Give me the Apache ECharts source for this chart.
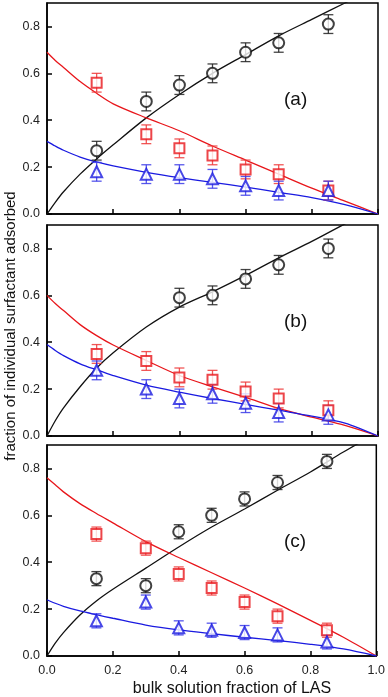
<!DOCTYPE html>
<html>
<head>
<meta charset="utf-8">
<script src="https://cdn.jsdelivr.net/npm/echarts@6/dist/echarts.min.js"></script>
<style>
  html, body { margin: 0; padding: 0; background: #fff; }
  #chart { width: 388px; height: 697px; }
</style>
</head>
<body>
<div id="chart"></div>
<script>
// measured points (x = bulk solution fraction of LAS)
const pointX = [0.15, 0.3, 0.4, 0.5, 0.6, 0.7, 0.85]

const circleA = [0.27, 0.48, 0.55, 0.60, 0.69, 0.73, 0.81]
const squareA = [0.56, 0.34, 0.28, 0.25, 0.19, 0.17, 0.10]
const triangleA = [0.18, 0.17, 0.17, 0.15, 0.12, 0.10, 0.10]
const errA = [0.04, 0.04, 0.04, 0.04, 0.04, 0.04, 0.04]

const circleB = [null, null, 0.59, 0.60, 0.67, 0.73, 0.80]
const squareB = [0.35, 0.32, 0.25, 0.24, 0.19, 0.16, 0.11]
const triangleB = [0.28, 0.20, 0.16, 0.18, 0.14, 0.10, 0.09]
const errB = [0.04, 0.04, 0.04, 0.04, 0.04, 0.04, 0.04]

const circleC = [0.33, 0.30, 0.53, 0.60, 0.67, 0.74, 0.83]
const squareC = [0.52, 0.46, 0.35, 0.29, 0.23, 0.17, 0.11]
const triangleC = [0.15, 0.23, 0.12, 0.11, 0.10, 0.09, 0.06]
const errC = [0.03, 0.03, 0.03, 0.03, 0.03, 0.03, 0.03]

// fitted curves
const curveX = [0, 0.025, 0.05, 0.1, 0.15, 0.2, 0.3, 0.4, 0.5, 0.6, 0.7, 0.8, 0.9, 1.0]

const blackFitA = [0, 0.05, 0.095, 0.17, 0.235, 0.295, 0.41, 0.51, 0.60, 0.68, 0.76, 0.83, 0.90, 0.97]
const redFitA = [0.69, 0.655, 0.625, 0.565, 0.515, 0.47, 0.41, 0.355, 0.29, 0.23, 0.17, 0.11, 0.055, 0]
const blueFitA = [0.31, 0.29, 0.272, 0.243, 0.222, 0.205, 0.178, 0.155, 0.135, 0.115, 0.092, 0.07, 0.04, 0]

const blackFitB = [0, 0.065, 0.12, 0.21, 0.29, 0.355, 0.465, 0.55, 0.615, 0.685, 0.76, 0.83, 0.905, 0.98]
const redFitB = [0.60, 0.565, 0.535, 0.475, 0.428, 0.388, 0.322, 0.258, 0.21, 0.165, 0.118, 0.08, 0.045, 0]
const blueFitB = [0.39, 0.365, 0.343, 0.308, 0.282, 0.258, 0.217, 0.187, 0.16, 0.135, 0.11, 0.085, 0.055, 0]

const blackFitC = [0, 0.055, 0.10, 0.175, 0.235, 0.285, 0.375, 0.465, 0.55, 0.627, 0.707, 0.785, 0.87, 0.95]
const redFitC = [0.76, 0.73, 0.70, 0.65, 0.608, 0.568, 0.488, 0.42, 0.355, 0.29, 0.222, 0.152, 0.08, 0]
const blueFitC = [0.24, 0.225, 0.212, 0.192, 0.176, 0.161, 0.132, 0.111, 0.095, 0.08, 0.066, 0.05, 0.03, 0]

const panelLabels = ['(a)', '(b)', '(c)']

const BLACK = '#111'
const RED = '#e8161b'
const BLUE = '#1a1ae0'

const panels = [
  { circle: circleA, square: squareA, triangle: triangleA, err: errA, fits: [blackFitA, redFitA, blueFitA] },
  { circle: circleB, square: squareB, triangle: triangleB, err: errB, fits: [blackFitB, redFitB, blueFitB] },
  { circle: circleC, square: squareC, triangle: triangleC, err: errC, fits: [blackFitC, redFitC, blueFitC] }
]

const gridTops = [3, 225, 445]
const gridHeight = 211

const chart = echarts.init(document.getElementById('chart'))

const fmt = v => v.toFixed(1)
const font = 'Liberation Sans'

const grids = gridTops.map(top => ({
  left: 47, width: 331, top: top, height: gridHeight,
  show: true, borderColor: '#000', borderWidth: 1.5, backgroundColor: 'transparent'
}))

const xAxes = gridTops.map((_, i) => ({
  type: 'value', gridIndex: i, min: 0, max: 1, interval: 0.2,
  axisLine: { lineStyle: { color: '#000', width: 1.5 } },
  axisTick: { inside: true, length: 5, lineStyle: { color: '#000', width: 1.5 } },
  axisLabel: { show: i === 2, formatter: fmt, color: '#222', fontSize: 12.5, fontFamily: font, margin: 8 },
  splitLine: { show: false }
}))

const yAxes = gridTops.map((_, i) => ({
  type: 'value', gridIndex: i, min: 0, max: 0.9, interval: 0.2,
  axisLine: { lineStyle: { color: '#000', width: 1.5 } },
  axisTick: { inside: true, length: 5, lineStyle: { color: '#000', width: 1.5 } },
  axisLabel: { formatter: fmt, color: '#222', fontSize: 12.5, fontFamily: font, margin: 7, showMaxLabel: false },
  splitLine: { show: false }
}))

// error bar: vertical line with caps
const errorBars = (ys, err, color, i) => ({
  type: 'custom', xAxisIndex: i, yAxisIndex: i, z: 3,
  data: pointX.map((x, k) => ys[k] == null ? null : [x, ys[k] - err[k], ys[k] + err[k]]).filter(d => d),
  renderItem: (params, api) => {
    const lo = api.coord([api.value(0), api.value(1)])
    const hi = api.coord([api.value(0), api.value(2)])
    const w = 5
    const style = { stroke: color, lineWidth: 1.3, opacity: 0.85 }
    return {
      type: 'group',
      children: [
        { type: 'line', shape: { x1: lo[0], y1: lo[1], x2: hi[0], y2: hi[1] }, style },
        { type: 'line', shape: { x1: lo[0] - w, y1: lo[1], x2: lo[0] + w, y2: lo[1] }, style },
        { type: 'line', shape: { x1: hi[0] - w, y1: hi[1], x2: hi[0] + w, y2: hi[1] }, style }
      ]
    }
  }
})

const markers = (ys, symbol, size, color, i) => ({
  type: 'scatter', xAxisIndex: i, yAxisIndex: i, z: 4,
  symbol: symbol, symbolSize: size,
  itemStyle: { color: color, borderColor: color, borderWidth: 1.3 },
  data: pointX.map((x, k) => ys[k] == null ? null : [x, ys[k]]).filter(d => d)
})

const fitLine = (ys, color, i) => ({
  type: 'line', xAxisIndex: i, yAxisIndex: i, z: 2,
  smooth: 0.3, showSymbol: false, clip: true,
  lineStyle: { color: color, width: 1.3 },
  data: curveX.map((x, k) => [x, ys[k]])
})

const series = []
panels.forEach((p, i) => {
  series.push(fitLine(p.fits[0], BLACK, i))
  series.push(fitLine(p.fits[1], RED, i))
  series.push(fitLine(p.fits[2], BLUE, i))
  series.push(errorBars(p.circle, p.err, '#222', i))
  series.push(errorBars(p.square, p.err, '#ee3a3a', i))
  series.push(errorBars(p.triangle, p.err, '#3a3ae8', i))
  series.push(markers(p.circle, 'emptyCircle', 11, BLACK, i))
  series.push(markers(p.square, 'emptyRect', 10, RED, i))
  series.push(markers(p.triangle, 'emptyTriangle', 11, BLUE, i))
})

const option = {
  animation: false,
  backgroundColor: '#fff',
  grid: grids,
  xAxis: xAxes,
  yAxis: yAxes,
  series: series,
  graphic: [
    ...panelLabels.map((t, i) => ({
      type: 'text', left: 284, top: gridTops[i] + 87,
      style: { text: t, fontSize: 19, fill: '#111', fontFamily: font }
    })),
    {
      type: 'text', x: 11, y: 326, rotation: Math.PI / 2,
      style: {
        text: 'fraction of individual surfactant adsorbed', fontSize: 15, fill: '#111',
        fontFamily: font, align: 'center', verticalAlign: 'middle'
      }
    },
    {
      type: 'text', x: 232, y: 689,
      style: {
        text: 'bulk solution fraction of LAS', fontSize: 16, fill: '#111',
        fontFamily: font, align: 'center', verticalAlign: 'middle'
      }
    }
  ]
}

chart.setOption(option)
</script>
</body>
</html>
